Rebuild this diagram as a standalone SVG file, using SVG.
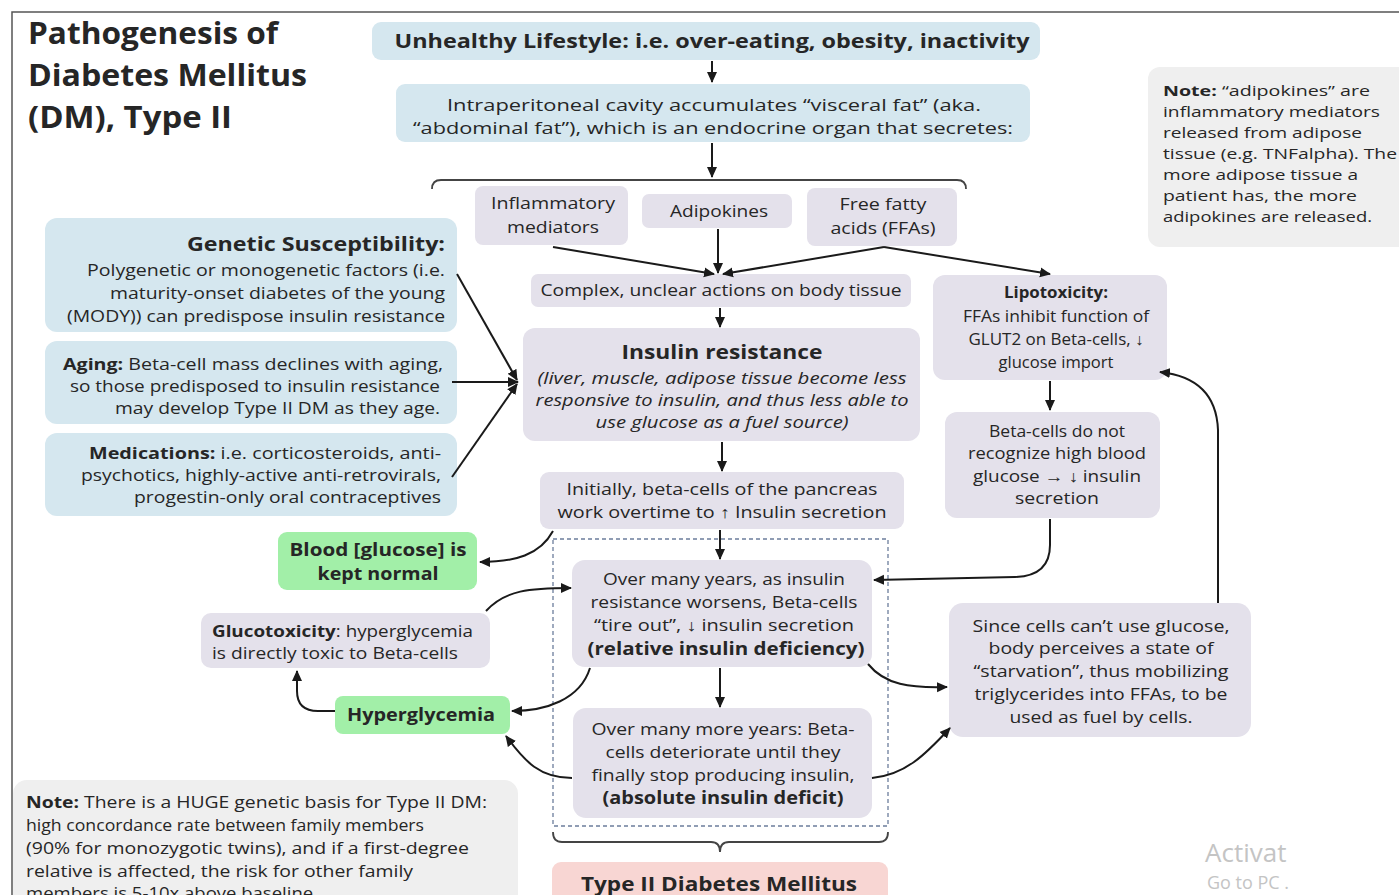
<svg xmlns="http://www.w3.org/2000/svg" width="1399" height="895" viewBox="0 0 1399 895">
<defs>
<marker id="ah" markerWidth="11" markerHeight="11" refX="10" refY="5.5" orient="auto" markerUnits="userSpaceOnUse"><path d="M0,0.5 L11,5.5 L0,10.5 z" fill="#1a1a1a"/></marker>
<style>
svg{font-size:17px;}
text{font-family:"Open Sans","Liberation Sans",sans-serif;fill:#262626;}
.b{font-weight:bold;}
.i{font-style:italic;}
.c{text-anchor:middle;}
.r{text-anchor:end;}
.blue{fill:#d5e7ef;}
.lav{fill:#e4e1eb;}
.grn{fill:#a2efa8;}
.pink{fill:#f8d6d3;}
.gray{fill:#efefef;}
.wm{fill:#c4c4c4;}
.cn path{fill:none;stroke:#1a1a1a;stroke-width:2;}
.ar{marker-end:url(#ah);}
</style>
</defs>
<rect width="1399" height="895" fill="#ffffff"/>
<path d="M12,895 L12,12 L1399,12" fill="none" stroke="#555" stroke-width="1.5"/>

<g id="title">
<text x="28" y="44" class="b" font-size="30" textLength="250" lengthAdjust="spacingAndGlyphs">Pathogenesis of</text>
<text x="28" y="86" class="b" font-size="30" textLength="279" lengthAdjust="spacingAndGlyphs">Diabetes Mellitus</text>
<text x="28" y="128" class="b" font-size="30" textLength="204" lengthAdjust="spacingAndGlyphs">(DM), Type II</text>
</g>

<g id="unhealthy">
<rect x="372" y="22" width="668" height="38" rx="9" class="blue"/>
<text x="712" y="48" class="b c" font-size="19" textLength="635" lengthAdjust="spacingAndGlyphs">Unhealthy Lifestyle: i.e. over-eating, obesity, inactivity</text>
</g>

<g id="visceral">
<rect x="396" y="84" width="634" height="58" rx="9" class="blue"/>
<text x="714" y="111" class="c" textLength="534" lengthAdjust="spacingAndGlyphs">Intraperitoneal cavity accumulates “visceral fat” (aka.</text>
<text x="713" y="134" class="c" textLength="600" lengthAdjust="spacingAndGlyphs">“abdominal fat”), which is an endocrine organ that secretes:</text>
</g>

<g id="inflammatory">
<rect x="475" y="186" width="153" height="59" rx="8" class="lav"/>
<text x="553" y="209" class="c" font-size="16" textLength="124" lengthAdjust="spacingAndGlyphs">Inflammatory</text>
<text x="553" y="233" class="c" font-size="16" textLength="92" lengthAdjust="spacingAndGlyphs">mediators</text>
</g>
<g id="adipokines">
<rect x="642" y="194" width="150" height="34" rx="7" class="lav"/>
<text x="719" y="217" class="c" font-size="16" textLength="98" lengthAdjust="spacingAndGlyphs">Adipokines</text>
</g>
<g id="ffa">
<rect x="807" y="188" width="150" height="58" rx="8" class="lav"/>
<text x="883" y="210" class="c" font-size="16" textLength="87" lengthAdjust="spacingAndGlyphs">Free fatty</text>
<text x="883" y="234" class="c" font-size="16" textLength="105" lengthAdjust="spacingAndGlyphs">acids (FFAs)</text>
</g>

<g id="complex">
<rect x="531" y="274" width="380" height="33" rx="7" class="lav"/>
<text x="721" y="296" class="c" font-size="16" textLength="361" lengthAdjust="spacingAndGlyphs">Complex, unclear actions on body tissue</text>
</g>

<g id="note-top">
<rect x="1148" y="67" width="262" height="180" rx="12" class="gray"/>
<text x="1163" y="96" font-size="15" textLength="207" lengthAdjust="spacingAndGlyphs"><tspan class="b">Note:</tspan> “adipokines” are</text>
<text x="1163" y="117" font-size="15" textLength="217" lengthAdjust="spacingAndGlyphs">inflammatory mediators</text>
<text x="1163" y="138" font-size="15" textLength="199" lengthAdjust="spacingAndGlyphs">released from adipose</text>
<text x="1163" y="159" font-size="15" textLength="234" lengthAdjust="spacingAndGlyphs">tissue (e.g. TNFalpha). The</text>
<text x="1163" y="180" font-size="15" textLength="195" lengthAdjust="spacingAndGlyphs">more adipose tissue a</text>
<text x="1163" y="201" font-size="15" textLength="194" lengthAdjust="spacingAndGlyphs">patient has, the more</text>
<text x="1163" y="222" font-size="15" textLength="209" lengthAdjust="spacingAndGlyphs">adipokines are released.</text>
</g>

<g id="genetic">
<rect x="45" y="218" width="412" height="114" rx="12" class="blue"/>
<text x="445" y="251" class="b r" font-size="20" textLength="258" lengthAdjust="spacingAndGlyphs">Genetic Susceptibility:</text>
<text x="445" y="276" class="r" font-size="16" textLength="358" lengthAdjust="spacingAndGlyphs">Polygenetic or monogenetic factors (i.e.</text>
<text x="445" y="299" class="r" font-size="16" textLength="335" lengthAdjust="spacingAndGlyphs">maturity-onset diabetes of the young</text>
<text x="445" y="322" class="r" font-size="16" textLength="378" lengthAdjust="spacingAndGlyphs">(MODY)) can predispose insulin resistance</text>
</g>
<g id="aging">
<rect x="45" y="341" width="412" height="83" rx="12" class="blue"/>
<text x="443" y="370" class="r" font-size="16" textLength="380" lengthAdjust="spacingAndGlyphs"><tspan class="b">Aging:</tspan> Beta-cell mass declines with aging,</text>
<text x="440" y="392" class="r" font-size="16" textLength="370" lengthAdjust="spacingAndGlyphs">so those predisposed to insulin resistance</text>
<text x="440" y="414" class="r" font-size="16" textLength="325" lengthAdjust="spacingAndGlyphs">may develop Type II DM as they age.</text>
</g>
<g id="medications">
<rect x="45" y="433" width="412" height="83" rx="12" class="blue"/>
<text x="441" y="459" class="r" font-size="16" textLength="352" lengthAdjust="spacingAndGlyphs"><tspan class="b">Medications:</tspan> i.e. corticosteroids, anti-</text>
<text x="441" y="481" class="r" font-size="16" textLength="360" lengthAdjust="spacingAndGlyphs">psychotics, highly-active anti-retrovirals,</text>
<text x="441" y="503" class="r" font-size="16" textLength="307" lengthAdjust="spacingAndGlyphs">progestin-only oral contraceptives</text>
</g>

<g id="insulin-resistance">
<rect x="523" y="328" width="397" height="113" rx="12" class="lav"/>
<text x="722" y="359" class="b c" font-size="20" textLength="201" lengthAdjust="spacingAndGlyphs">Insulin resistance</text>
<text x="722" y="384" class="i c" font-size="16" textLength="369" lengthAdjust="spacingAndGlyphs">(liver, muscle, adipose tissue become less</text>
<text x="722" y="406" class="i c" font-size="16" textLength="373" lengthAdjust="spacingAndGlyphs">responsive to insulin, and thus less able to</text>
<text x="722" y="428" class="i c" font-size="16" textLength="253" lengthAdjust="spacingAndGlyphs">use glucose as a fuel source)</text>
</g>

<g id="initially">
<rect x="540" y="472" width="364" height="57" rx="9" class="lav"/>
<text x="722" y="495" class="c" font-size="16" textLength="311" lengthAdjust="spacingAndGlyphs">Initially, beta-cells  of the pancreas</text>
<text x="722" y="518" class="c" font-size="16" textLength="329" lengthAdjust="spacingAndGlyphs">work overtime to ↑ Insulin secretion</text>
</g>

<g id="lipotoxicity">
<rect x="933" y="275" width="234" height="105" rx="12" class="lav"/>
<text x="1056" y="298" class="b c" font-size="15.5" textLength="104" lengthAdjust="spacingAndGlyphs">Lipotoxicity:</text>
<text x="1056" y="322" class="c" font-size="16" textLength="186" lengthAdjust="spacingAndGlyphs">FFAs inhibit function of</text>
<text x="1056" y="345" class="c" font-size="16" textLength="175" lengthAdjust="spacingAndGlyphs">GLUT2 on Beta-cells, ↓</text>
<text x="1056" y="368" class="c" font-size="16" textLength="115" lengthAdjust="spacingAndGlyphs">glucose import</text>
</g>
<g id="beta-not-recognize">
<rect x="945" y="412" width="215" height="106" rx="12" class="lav"/>
<text x="1057" y="437" class="c" font-size="16" textLength="136" lengthAdjust="spacingAndGlyphs">Beta-cells do not</text>
<text x="1057" y="459" class="c" font-size="16" textLength="178" lengthAdjust="spacingAndGlyphs">recognize high blood</text>
<text x="1057" y="482" class="c" font-size="16" textLength="168" lengthAdjust="spacingAndGlyphs">glucose → ↓ insulin</text>
<text x="1057" y="504" class="c" font-size="16" textLength="84" lengthAdjust="spacingAndGlyphs">secretion</text>
</g>

<g id="dashed-frame">
<rect x="553" y="539" width="335" height="287" fill="none" stroke="#6c7d9c" stroke-width="1.3" stroke-dasharray="4 3"/>
</g>

<g id="relative">
<rect x="572" y="560" width="300" height="107" rx="13" class="lav"/>
<text x="724" y="585" class="c" font-size="16" textLength="242" lengthAdjust="spacingAndGlyphs">Over many years, as insulin</text>
<text x="724" y="608" class="c" font-size="16" textLength="267" lengthAdjust="spacingAndGlyphs">resistance worsens, Beta-cells</text>
<text x="724" y="631" class="c" font-size="16" textLength="260" lengthAdjust="spacingAndGlyphs">“tire out”, ↓ insulin secretion</text>
<text x="726" y="655" class="b c" textLength="277" lengthAdjust="spacingAndGlyphs">(relative insulin deficiency)</text>
</g>
<g id="absolute">
<rect x="573" y="708" width="299" height="110" rx="13" class="lav"/>
<text x="723" y="735" class="c" font-size="16" textLength="263" lengthAdjust="spacingAndGlyphs">Over many more years: Beta-</text>
<text x="723" y="758" class="c" font-size="16" textLength="235" lengthAdjust="spacingAndGlyphs">cells deteriorate until they</text>
<text x="723" y="781" class="c" font-size="16" textLength="263" lengthAdjust="spacingAndGlyphs">finally stop producing insulin,</text>
<text x="723" y="804" class="b c" textLength="241" lengthAdjust="spacingAndGlyphs">(absolute insulin deficit)</text>
</g>

<g id="blood-normal">
<rect x="278" y="532" width="199" height="58" rx="9" class="grn"/>
<text x="378" y="556" class="b c" font-size="18" textLength="177" lengthAdjust="spacingAndGlyphs">Blood [glucose] is</text>
<text x="378" y="580" class="b c" font-size="18" textLength="121" lengthAdjust="spacingAndGlyphs">kept normal</text>
</g>
<g id="glucotoxicity">
<rect x="201" y="613" width="289" height="55" rx="10" class="lav"/>
<text x="212" y="637" font-size="15.5" textLength="261" lengthAdjust="spacingAndGlyphs"><tspan class="b">Glucotoxicity</tspan>: hyperglycemia</text>
<text x="212" y="659" font-size="15.5" textLength="246" lengthAdjust="spacingAndGlyphs">is directly toxic to Beta-cells</text>
</g>
<g id="hyperglycemia">
<rect x="335" y="696" width="175" height="38" rx="8" class="grn"/>
<text x="421" y="721" class="b c" font-size="18" textLength="148" lengthAdjust="spacingAndGlyphs">Hyperglycemia</text>
</g>

<g id="starvation">
<rect x="949" y="603" width="302" height="134" rx="14" class="lav"/>
<text x="1101" y="632" class="c" font-size="16" textLength="257" lengthAdjust="spacingAndGlyphs">Since cells can’t use glucose,</text>
<text x="1101" y="654" class="c" font-size="16" textLength="225" lengthAdjust="spacingAndGlyphs">body perceives a state of</text>
<text x="1101" y="677" class="c" font-size="16" textLength="255" lengthAdjust="spacingAndGlyphs">“starvation”, thus mobilizing</text>
<text x="1101" y="700" class="c" font-size="16" textLength="253" lengthAdjust="spacingAndGlyphs">triglycerides into FFAs, to be</text>
<text x="1101" y="723" class="c" font-size="16" textLength="183" lengthAdjust="spacingAndGlyphs">used as fuel by cells.</text>
</g>

<g id="type2">
<rect x="552" y="862" width="336" height="45" rx="9" class="pink"/>
<text x="719" y="891" class="b c" font-size="20" textLength="276" lengthAdjust="spacingAndGlyphs">Type II Diabetes Mellitus</text>
</g>

<g id="note-bottom">
<rect x="13" y="780" width="505" height="130" rx="14" class="gray"/>
<text x="26" y="808" font-size="16" textLength="461" lengthAdjust="spacingAndGlyphs"><tspan class="b">Note:</tspan> There is a HUGE genetic basis for Type II DM:</text>
<text x="26" y="831" font-size="16" textLength="398" lengthAdjust="spacingAndGlyphs">high concordance rate between family members</text>
<text x="26" y="854" font-size="16" textLength="443" lengthAdjust="spacingAndGlyphs">(90% for monozygotic twins), and if a first-degree</text>
<text x="26" y="877" font-size="16" textLength="387" lengthAdjust="spacingAndGlyphs">relative is affected, the risk for other family</text>
<text x="26" y="899" font-size="16" textLength="292" lengthAdjust="spacingAndGlyphs">members is 5-10x above baseline.</text>
</g>

<g id="watermark">
<text x="1205" y="862" font-size="26" class="wm">Activat</text>
<text x="1207" y="889" font-size="18" class="wm">Go to PC .</text>
</g>

<g id="connectors" class="cn">
<path class="ar" d="M712,61 L712,82"/>
<path class="ar" d="M712,143 L712,177"/>
<path d="M432,189 Q432,180 441,180 L957,180 Q966,180 966,189" style="stroke:#444;stroke-width:1.8"/>
<path class="ar" d="M553,247 L714,274"/>
<path class="ar" d="M718,229 L718,273"/>
<path class="ar" d="M884,247 L723,274"/>
<path class="ar" d="M884,247 L1050,274"/>
<path class="ar" d="M720,308 L720,327"/>
<path class="ar" d="M457,274 L517,380"/>
<path class="ar" d="M452,382 L518,382"/>
<path class="ar" d="M452,477 L517,384"/>
<path class="ar" d="M722,442 L722,471"/>
<path class="ar" d="M720,530 L720,559"/>
<path class="ar" d="M720,668 L720,707"/>
<path class="ar" d="M553,531 C540,555 515,562 480,562"/>
<path class="ar" d="M486,611 C505,590 530,588 571,588"/>
<path class="ar" d="M590,668 C580,700 545,711 512,711"/>
<path class="ar" d="M572,778 C540,778 525,762 506,736"/>
<path class="ar" d="M335,711 L318,711 Q297,711 297,691 L297,671"/>
<path class="ar" d="M1050,381 L1050,410"/>
<path class="ar" d="M1050,519 L1050,545 Q1050,576 1015,577 L874,580"/>
<path class="ar" d="M868,664 C885,685 910,688 947,687"/>
<path class="ar" d="M872,778 C905,775 925,755 950,728"/>
<path class="ar" d="M1218,603 L1218,430 Q1216,378 1160,372"/>
<path d="M553,832 Q553,842 562,842 L711,842 Q720,842 720,852 Q720,842 729,842 L879,842 Q888,842 888,832" style="stroke:#444;stroke-width:1.8"/>
</g>
</svg>
